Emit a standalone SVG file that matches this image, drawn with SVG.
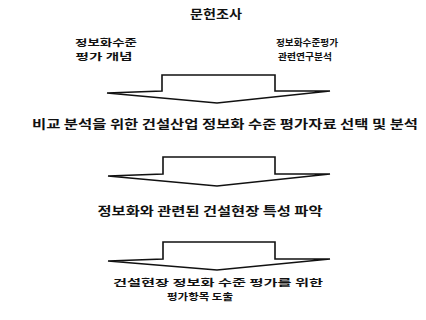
<svg xmlns="http://www.w3.org/2000/svg" width="426" height="320" viewBox="0 0 426 320">
<style>
.t{font-family:"Noto Sans CJK KR","Noto Sans",sans-serif;font-weight:bold;font-size:12.5px;fill:#111;text-anchor:middle;dominant-baseline:central}
.s{font-size:9.6px}
.arr{fill:#fff;stroke:#111;stroke-width:1.6;stroke-linejoin:miter}
</style>
<rect width="426" height="320" fill="#fff"/>
<g id="node-survey">
<text class="t" x="216" y="13" textLength="52" lengthAdjust="spacingAndGlyphs">문헌조사</text>
</g>
<g id="node-concept">
<text class="t s" x="106" y="41.5" textLength="62" lengthAdjust="spacingAndGlyphs">정보화수준</text>
<text class="t s" x="104" y="55.5" textLength="57" lengthAdjust="spacingAndGlyphs">평가 개념</text>
</g>
<g id="node-research">
<text class="t s" x="307" y="41.5" textLength="62" lengthAdjust="spacingAndGlyphs">정보화수준평가</text>
<text class="t s" x="305" y="55.5" textLength="54" lengthAdjust="spacingAndGlyphs">관련연구분석</text>
</g>
<g id="node-select">
<text class="t" x="225" y="123" textLength="386" lengthAdjust="spacingAndGlyphs">비교 분석을 위한 건설산업 정보화 수준 평가자료 선택 및 분석</text>
</g>
<g id="node-feature">
<text class="t" x="210" y="210" textLength="225" lengthAdjust="spacingAndGlyphs">정보화와 관련된 건설현장 특성 파악</text>
</g>
<g id="node-derive">
<text class="t s" x="218" y="281.5" textLength="210" lengthAdjust="spacingAndGlyphs">건설현장 정보화 수준 평가를 위한</text>
<text class="t s" x="200" y="295.5" textLength="66" lengthAdjust="spacingAndGlyphs">평가항목 도출</text>
</g>
<g id="connectors">
<polygon class="arr" points="162,75 275,75 275,91 330,91 217,103 107,93 162,91"/>
<polygon class="arr" points="163,157 275,157 275,174 330,174 217,186 108,176 163,174"/>
<polygon class="arr" points="163,242 275,242 275,259 330,259 217,270 108,261 163,259"/>
</g>
</svg>
